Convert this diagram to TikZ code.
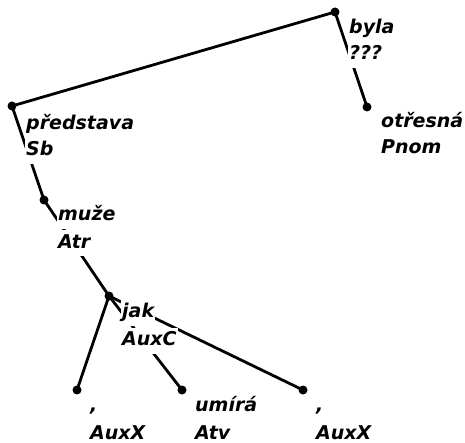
\documentclass[tikz,border=0pt]{standalone}
\usepackage{fontspec}
\setmainfont{DejaVu Sans}
\usetikzlibrary{calc}
\pgfdeclarelayer{background}
\pgfsetlayers{background,main}
\tikzset{
  dot/.style={circle,fill=black,inner sep=0pt,minimum size=9pt},
  lab/.style={anchor=base west,fill=white,inner xsep=1pt,inner ysep=3.5pt,
    text height=14pt,text depth=5pt,text=black,
    font=\fontsize{19}{22}\selectfont\bfseries\itshape},
  edge/.style={line width=2.8pt,black},
}
\begin{document}
\begin{tikzpicture}[x=1pt,y=-1pt]
\useasboundingbox (0,0) rectangle (465,443);
% dots
\node[dot] (byla) at (335,12) {};
\node[dot] (otresna) at (367,107) {};
\node[dot] (predstava) at (12,106) {};
\node[dot] (muze) at (44,200) {};
\node[dot] (jak) at (109,296) {};
\node[dot] (auxA) at (77,390) {};
\node[dot] (umira) at (182,390) {};
\node[dot] (auxB) at (303,390) {};
% labels
\node[lab] (bylaA) at (348,34) {byla};
\node[lab] (bylaB) at (348,60) {???};
\node[lab] (otresnaA) at (380,128) {otřesná};
\node[lab] (otresnaB) at (380,154) {Pnom};
\node[lab] (predstavaA) at (25,130) {představa};
\node[lab] (predstavaB) at (25,156) {Sb};
\node[lab] (muzeA) at (57,221) {muže};
\node[lab] (muzeB) at (57,248) {Atr};
\node[lab] (jakA) at (121,317) {jak};
\node[lab] (jakB) at (121,345) {AuxC};
\node[lab] (auxAA) at (89,411) {,};
\node[lab] (auxAB) at (89,439) {AuxX};
\node[lab] (umiraA) at (194,411) {umírá};
\node[lab] (umiraB) at (194,439) {Atv};
\node[lab] (auxBA) at (315,411) {,};
\node[lab] (auxBB) at (315,439) {AuxX};
% edges
\begin{pgfonlayer}{background}
\draw[edge] (byla.center) -- (predstava.center);
\draw[edge] (byla.center) -- (otresna.center);
\draw[edge] (predstava.center) -- (muze.center);
\draw[edge] (muze.center) -- (jak.center);
\draw[edge] (jak.center) -- (auxA.center);
\draw[edge] (jak.center) -- (umira.center);
\draw[edge] (jak.center) -- (auxB.center);
\end{pgfonlayer}
\end{tikzpicture}
\end{document}
